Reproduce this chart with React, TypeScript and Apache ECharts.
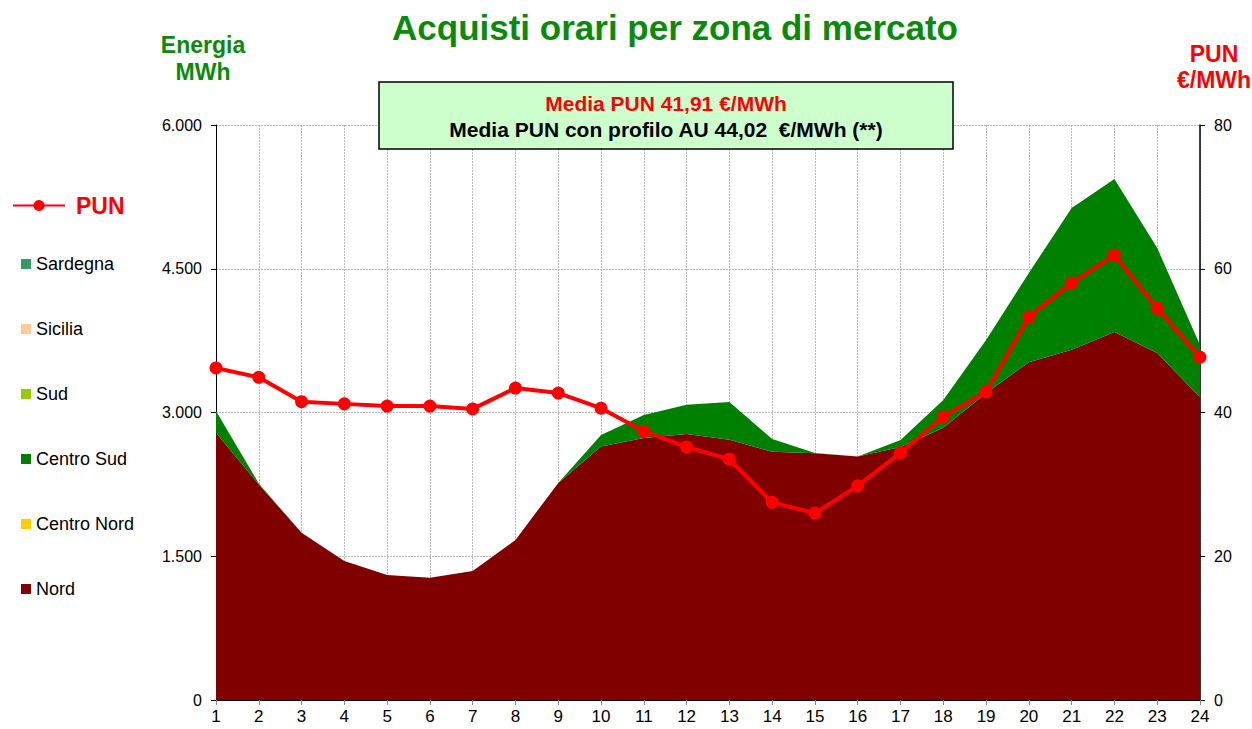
import React, { useEffect, useRef } from "react";
import * as echarts from "echarts";

const hours = Array.from({ length: 24 }, (_, i) => String(i + 1));
const nord = [2790, 2250, 1745, 1450, 1305, 1275, 1345, 1670, 2265, 2645, 2735, 2775, 2715, 2590, 2575, 2540, 2640, 2840, 3200, 3525, 3655, 3840, 3620, 3160];
const centroNord = [0, 0, 0, 0, 0, 0, 0, 0, 0, 0, 0, 0, 0, 0, 0, 0, 0, 0, 0, 0, 0, 0, 0, 0];
const centroSud = [225, 10, 0, 0, 0, 0, 0, 0, 0, 120, 240, 305, 395, 133, 2, 0, 73, 290, 557, 931, 1479, 1597, 1097, 544];
const sud = [0, 0, 0, 0, 0, 0, 0, 0, 0, 0, 0, 0, 0, 0, 0, 0, 0, 0, 0, 0, 0, 0, 0, 0];
const sicilia = [0, 0, 0, 0, 0, 0, 0, 0, 0, 0, 0, 0, 0, 0, 0, 0, 0, 0, 0, 0, 0, 0, 0, 0];
const sardegna = [0, 0, 0, 0, 0, 0, 0, 0, 0, 0, 0, 0, 0, 0, 0, 0, 0, 0, 0, 0, 0, 0, 0, 0];
const pun = [46.2, 44.9, 41.5, 41.2, 40.9, 40.9, 40.5, 43.4, 42.7, 40.6, 37.4, 35.2, 33.5, 27.5, 26.0, 29.8, 34.4, 39.4, 42.9, 53.3, 58.0, 61.9, 54.5, 47.7];
const leftTicks = [0, 1500, 3000, 4500, 6000];
const rightTicks = [0, 20, 40, 60, 80];

const FONT = "'Liberation Sans', Arial, sans-serif";

export default function App() {
  const ref = useRef<HTMLDivElement>(null);
  useEffect(() => {
    if (!ref.current) return;
    const chart = echarts.init(ref.current, null, { renderer: "svg" });
    const area = (name: string, data: number[], color: string) => ({
      name,
      type: "line",
      stack: "tot",
      data,
      yAxisIndex: 0,
      showSymbol: false,
      symbol: "none",
      lineStyle: { width: 0 },
      areaStyle: { color, opacity: 1 },
      itemStyle: { color },
      z: 2,
    });
    chart.setOption({
      animation: false,
      textStyle: { fontFamily: FONT },
      grid: { left: 216, right: 52, top: 125, bottom: 29, containLabel: false },
      legend: [
        {
          data: ["PUN"],
          left: 12,
          top: 194,
          padding: 0,
          itemWidth: 52,
          itemHeight: 14,
          itemGap: 10,
          textStyle: { color: "#ff0000", fontWeight: "bold", fontSize: 23, fontFamily: FONT, padding: [0, 0, 0, 6] },
        },
        {
          data: ["Sardegna", "Sicilia", "Sud", "Centro Sud", "Centro Nord", "Nord"],
          orient: "vertical",
          left: 16,
          top: 249,
          icon: "rect",
          itemWidth: 10,
          itemHeight: 10,
          itemGap: 45,
          textStyle: { color: "#000", fontSize: 18, lineHeight: 20, fontFamily: FONT },
        },
      ],
      xAxis: {
        type: "category",
        data: hours,
        boundaryGap: false,
        axisLine: { lineStyle: { color: "#000", width: 1 } },
        axisTick: { show: true, length: 5, lineStyle: { color: "#888" } },
        axisLabel: { color: "#000", fontSize: 17, margin: 8, fontFamily: FONT },
        splitLine: { show: true, lineStyle: { color: "#b8b8b8", type: [2, 1], width: 1 } },
      },
      yAxis: [
        {
          type: "value",
          min: leftTicks[0],
          max: leftTicks[leftTicks.length - 1],
          interval: 1500,
          axisLine: { show: true, lineStyle: { color: "#000", width: 1 } },
          axisTick: { show: true, length: 5, lineStyle: { color: "#000" } },
          axisLabel: {
            color: "#000",
            fontSize: 16,
            margin: 14,
            fontFamily: FONT,
            formatter: (v: number) => v.toString().replace(/\B(?=(\d{3})+(?!\d))/g, "."),
          },
          splitLine: { show: true, lineStyle: { color: "#b8b8b8", type: [2, 1], width: 1 } },
        },
        {
          type: "value",
          min: rightTicks[0],
          max: rightTicks[rightTicks.length - 1],
          interval: 20,
          position: "right",
          axisLine: { show: true, lineStyle: { color: "#000", width: 1.5 } },
          axisTick: { show: true, length: 5, lineStyle: { color: "#000" } },
          axisLabel: { color: "#000", fontSize: 16, margin: 14, fontFamily: FONT },
          splitLine: { show: false },
        },
      ],
      series: [
        area("Nord", nord, "#800000"),
        area("Centro Nord", centroNord, "#ffcc00"),
        area("Centro Sud", centroSud, "#008000"),
        area("Sud", sud, "#99cc00"),
        area("Sicilia", sicilia, "#ffcc99"),
        area("Sardegna", sardegna, "#339966"),
        {
          name: "PUN",
          type: "line",
          yAxisIndex: 1,
          data: pun,
          symbol: "circle",
          symbolSize: 13,
          lineStyle: { color: "#ff0000", width: 4 },
          itemStyle: { color: "#ff0000" },
          z: 5,
        },
      ],
      graphic: [
        {
          type: "text",
          x: 675,
          y: 27,
          style: {
            text: "Acquisti orari per zona di mercato",
            fill: "#0a8a0a",
            font: `bold 35px ${FONT}`,
            textAlign: "center",
            textVerticalAlign: "middle",
          },
        },
        {
          type: "text",
          x: 203,
          y: 58,
          style: {
            text: "Energia\nMWh",
            fill: "#0a8a0a",
            font: `bold 23px ${FONT}`,
            lineHeight: 27,
            textAlign: "center",
            textVerticalAlign: "middle",
          },
        },
        {
          type: "text",
          x: 1214,
          y: 67,
          style: {
            text: "PUN\n€/MWh",
            fill: "#ff0000",
            font: `bold 23px ${FONT}`,
            lineHeight: 26,
            textAlign: "center",
            textVerticalAlign: "middle",
          },
        },
        {
          type: "rect",
          shape: { x: 379, y: 82, width: 574, height: 67 },
          style: { fill: "#ccffcc", stroke: "#000", lineWidth: 1.5 },
          z: 10,
        },
        {
          type: "text",
          x: 666,
          y: 103,
          z: 11,
          style: {
            text: "Media PUN 41,91 €/MWh",
            fill: "#ff0000",
            font: `bold 21px ${FONT}`,
            textAlign: "center",
            textVerticalAlign: "middle",
          },
        },
        {
          type: "text",
          x: 666,
          y: 129,
          z: 11,
          style: {
            text: "Media PUN con profilo AU 44,02  €/MWh (**)",
            fill: "#000",
            font: `bold 21px ${FONT}`,
            textAlign: "center",
            textVerticalAlign: "middle",
          },
        },
      ],
    });
    return () => chart.dispose();
  }, []);
  return (
    <div
      ref={ref}
      style={{ position: "absolute", left: 0, top: 0, width: 1252, height: 729, background: "#fff" }}
    />
  );
}
